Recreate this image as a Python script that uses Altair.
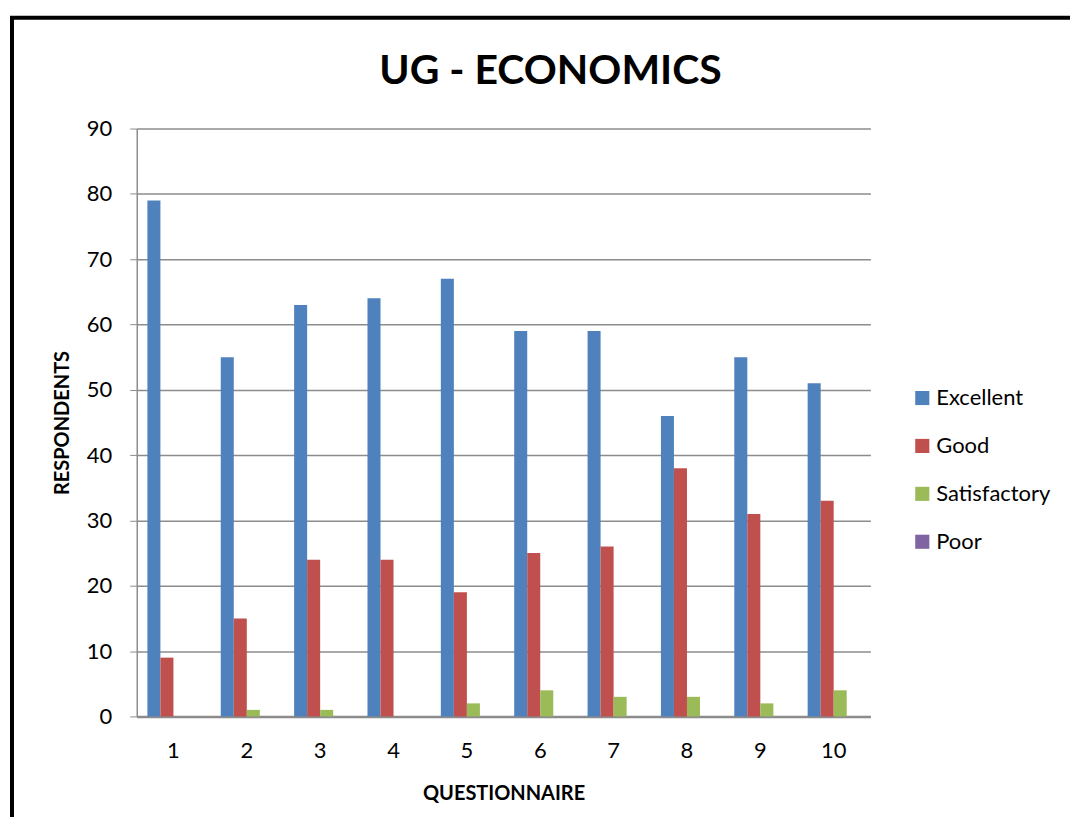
import altair as alt
import pandas as pd

questions = ["1", "2", "3", "4", "5", "6", "7", "8", "9", "10"]
categories = ["Excellent", "Good", "Satisfactory", "Poor"]
excellent = [79, 55, 63, 64, 67, 59, 59, 46, 55, 51]
good = [9, 15, 24, 24, 19, 25, 26, 38, 31, 33]
satisfactory = [0, 1, 1, 0, 2, 4, 3, 3, 2, 4]
poor = [0, 0, 0, 0, 0, 0, 0, 0, 0, 0]
colors = ["#4F81BD", "#C0504D", "#9BBB59", "#8064A2"]

rows = []
for cat, vals in zip(categories, [excellent, good, satisfactory, poor]):
    for q, v in zip(questions, vals):
        rows.append({"question": q, "category": cat, "value": v})
df = pd.DataFrame(rows)

FONT = "Lato"
pi = 0.29

bars = alt.Chart(df).mark_bar().encode(
    x=alt.X("question:N", sort=questions,
            scale=alt.Scale(paddingInner=pi, paddingOuter=pi / 2),
            axis=alt.Axis(title="QUESTIONNAIRE", labelAngle=0, labelFontSize=22,
                          labelFont=FONT, labelColor="black", labelPadding=24,
                          titleFont=FONT, titleFontSize=20, titleFontWeight="bold",
                          titleColor="black", titlePadding=22, ticks=False,
                          domainColor="#8c8c8c", domainWidth=2.5, grid=False)),
    xOffset=alt.XOffset("category:N", sort=categories,
                        scale=alt.Scale(domain=categories)),
    y=alt.Y("value:Q", scale=alt.Scale(domain=[0, 90], nice=False),
            axis=alt.Axis(title="RESPONDENTS", values=list(range(0, 91, 10)),
                          labelFontSize=22, labelFont=FONT, labelColor="black",
                          labelPadding=18, tickSize=7, tickColor="#8c8c8c",
                          domainColor="#8c8c8c", domainWidth=1.5,
                          gridColor="#8c8c8c", gridWidth=1.5,
                          titleFont=FONT, titleFontSize=20, titleFontWeight="bold",
                          titleColor="black", titlePadding=14)),
    color=alt.Color("category:N", sort=categories,
                    scale=alt.Scale(domain=categories, range=colors),
                    legend=alt.Legend(title=None, orient="none", legendX=776, legendY=259,
                                      symbolType="square", symbolSize=200,
                                      symbolStrokeWidth=0, labelFontSize=22,
                                      labelFont=FONT, labelColor="black",
                                      rowPadding=26, labelOffset=3)),
)

left_border = alt.Chart(pd.DataFrame({"a": [0]})).mark_rule(color="black", strokeWidth=4).encode(
    x=alt.value(-125), y=alt.value(-111), y2=alt.value(720))
top_border = alt.Chart(pd.DataFrame({"a": [0]})).mark_rule(color="black", strokeWidth=4).encode(
    x=alt.value(-127), x2=alt.value(960), y=alt.value(-111))

chart = alt.layer(bars, left_border, top_border).properties(
    width=735, height=589,
    autosize=alt.AutoSizeParams(type="none"),
    padding={"left": 129, "top": 120, "right": 200, "bottom": 100},
    title=alt.TitleParams("UG - ECONOMICS", font=FONT, fontSize=41, fontWeight="bold",
                          color="black", anchor="middle", frame="group", dx=47,
                          offset=0, dy=109, baseline="alphabetic"),
).configure_view(stroke=None)

chart.save("out.html", embed_options={"renderer": "svg", "actions": False})
